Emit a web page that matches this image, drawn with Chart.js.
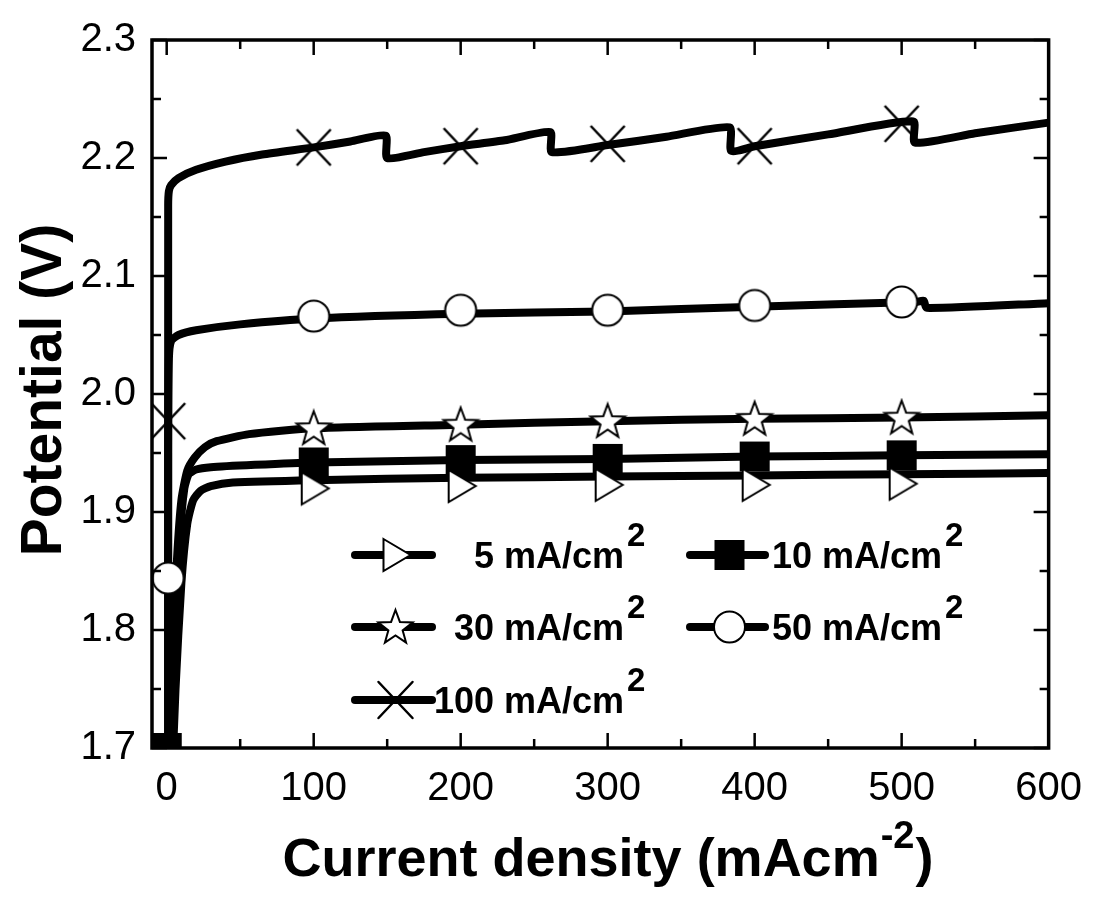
<!DOCTYPE html>
<html>
<head>
<meta charset="utf-8">
<script src="https://cdn.jsdelivr.net/npm/chart.js@4/dist/chart.umd.min.js"></script>
<style>
  html, body { margin: 0; padding: 0; background: #fff; }
  #wrap { width: 1099px; height: 913px; }
</style>
</head>
<body>
<div id="wrap"><canvas id="chart" width="1099" height="913"></canvas></div>
<script>
// axis ticks
const xTicks = [0, 100, 200, 300, 400, 500, 600];
const yTicks = [1.7, 1.8, 1.9, 2.0, 2.1, 2.2, 2.3];

// 5 mA/cm2
const x5 = [2, 6, 10, 14, 18, 23, 30, 45, 100, 200, 300, 400, 500, 600];
const y5 = [1.62, 1.75, 1.84, 1.89, 1.91, 1.918, 1.922, 1.925, 1.927, 1.929, 1.930, 1.931, 1.932, 1.933];
const mx5 = [100, 200, 300, 400, 500];
const my5 = [1.920, 1.922, 1.923, 1.923, 1.924];

// 10 mA/cm2
const x10 = [0, 3, 6, 9, 12, 15, 20, 30, 60, 100, 200, 300, 400, 500, 600];
const y10 = [1.62, 1.72, 1.80, 1.88, 1.92, 1.932, 1.936, 1.938, 1.940, 1.942, 1.944, 1.945, 1.947, 1.948, 1.949];
const mx10 = [0, 100, 200, 300, 400, 500];
const my10 = [1.70, 1.942, 1.944, 1.945, 1.947, 1.948];

// 30 mA/cm2
const x30 = [1, 4, 7, 10, 14, 19, 26, 34, 56, 100, 200, 300, 400, 500, 600];
const y30 = [1.65, 1.78, 1.86, 1.91, 1.935, 1.946, 1.955, 1.960, 1.966, 1.971, 1.974, 1.977, 1.979, 1.980, 1.982];
const mx30 = [100, 200, 300, 400, 500];
const my30 = [1.971, 1.974, 1.977, 1.979, 1.980];

// 50 mA/cm2
const x50 = [1, 1, 1.5, 3, 8, 20, 50, 100, 200, 300, 400, 510, 515, 517, 600];
const y50 = [1.62, 1.95, 2.03, 2.045, 2.05, 2.054, 2.059, 2.064, 2.068, 2.070, 2.074, 2.078, 2.079, 2.073, 2.077];
const mx50 = [1, 100, 200, 300, 400, 500];
const my50 = [1.844, 2.066, 2.071, 2.071, 2.075, 2.078];

// 100 mA/cm2
const x100 = [1, 1, 1.5, 3, 8, 20, 40, 65, 100, 125, 149, 150, 175, 200, 230, 261, 262, 300, 340, 383, 384, 400, 450, 508, 509, 550, 600];
const y100 = [1.60, 2.16, 2.172, 2.177, 2.183, 2.19, 2.197, 2.203, 2.209, 2.214, 2.219, 2.200, 2.205, 2.210, 2.215, 2.222, 2.205, 2.211, 2.218, 2.226, 2.206, 2.210, 2.220, 2.231, 2.213, 2.221, 2.230];
const mx100 = [1, 100, 200, 300, 400, 500];
const my100 = [1.977, 2.209, 2.210, 2.212, 2.210, 2.229];

const legendLabels = ['5 mA/cm', '10 mA/cm', '30 mA/cm', '50 mA/cm', '100 mA/cm'];

const FONT = '"Liberation Sans", Arial, sans-serif';

function pts(xs, ys) {
  return xs.map((x, i) => ({x: x, y: ys[i]}));
}

function drawMarker(ctx, kind, cx, cy) {
  ctx.save();
  ctx.strokeStyle = '#000';
  ctx.lineWidth = 2;
  ctx.fillStyle = '#fff';
  ctx.beginPath();
  if (kind === 'tri') {
    ctx.moveTo(cx - 12, cy - 16);
    ctx.lineTo(cx + 15, cy);
    ctx.lineTo(cx - 12, cy + 16);
    ctx.closePath();
    ctx.fill(); ctx.stroke();
  } else if (kind === 'square') {
    ctx.fillStyle = '#000';
    ctx.fillRect(cx - 15, cy - 15, 30, 30);
  } else if (kind === 'star') {
    for (let i = 0; i < 10; i++) {
      const r = i % 2 ? 7.5 : 18;
      const a = -Math.PI / 2 + i * Math.PI / 5;
      const px = cx + r * Math.cos(a), py = cy + 1 + r * Math.sin(a);
      if (i === 0) ctx.moveTo(px, py); else ctx.lineTo(px, py);
    }
    ctx.closePath();
    ctx.fill(); ctx.stroke();
  } else if (kind === 'circle') {
    ctx.arc(cx, cy, 15.5, 0, Math.PI * 2);
    ctx.fill(); ctx.stroke();
  } else if (kind === 'x') {
    ctx.lineWidth = 2.5;
    ctx.moveTo(cx - 17, cy - 18); ctx.lineTo(cx + 17, cy + 18);
    ctx.moveTo(cx + 17, cy - 18); ctx.lineTo(cx - 17, cy + 18);
    ctx.stroke();
  }
  ctx.restore();
}

function makeMarker(kind) {
  const c = document.createElement('canvas');
  c.width = 40; c.height = 40;
  drawMarker(c.getContext('2d'), kind, 20, 20);
  return c;
}

const kinds = ['tri', 'square', 'star', 'circle', 'x'];
const markerImgs = kinds.map(makeMarker);

function lineSet(xs, ys) {
  return {
    data: pts(xs, ys), showLine: true, borderColor: '#000', borderWidth: 8,
    pointRadius: 0, tension: 0.2, order: 2, borderJoinStyle: 'round', borderCapStyle: 'round'
  };
}
function markSet(xs, ys, k) {
  return {
    data: pts(xs, ys), showLine: false, pointStyle: markerImgs[k],
    pointRadius: 16, order: 1, borderWidth: 0
  };
}

const frame = {
  id: 'frame',
  afterDraw(chart) {
    const ctx = chart.ctx;
    const a = chart.chartArea;
    const sx = chart.scales.x, sy = chart.scales.y;
    ctx.save();
    ctx.strokeStyle = '#000';
    ctx.lineWidth = 2.5;
    for (let v = 0; v <= 600; v += 50) {
      const p = sx.getPixelForValue(v);
      const len = v % 100 === 0 ? 15 : 9;
      ctx.beginPath();
      ctx.moveTo(p, a.bottom); ctx.lineTo(p, a.bottom - len);
      ctx.moveTo(p, a.top); ctx.lineTo(p, a.top + len);
      ctx.stroke();
    }
    for (let i = 0; i <= 12; i++) {
      const v = 1.7 + i * 0.05;
      const p = sy.getPixelForValue(v);
      const len = i % 2 === 0 ? 15 : 9;
      ctx.beginPath();
      ctx.moveTo(a.left, p); ctx.lineTo(a.left + len, p);
      ctx.moveTo(a.right, p); ctx.lineTo(a.right - len, p);
      ctx.stroke();
    }
    ctx.lineWidth = 3.5;
    ctx.strokeRect(a.left, a.top, a.right - a.left, a.bottom - a.top);

    // axis titles
    ctx.fillStyle = '#000';
    ctx.textBaseline = 'alphabetic';
    const main = 'Current density (mAcm';
    ctx.font = 'bold 54px ' + FONT;
    const w1 = ctx.measureText(main).width;
    ctx.font = 'bold 38px ' + FONT;
    const w2 = ctx.measureText('-2').width;
    ctx.font = 'bold 54px ' + FONT;
    const w3 = ctx.measureText(')').width;
    const tx = 607 - (w1 + w2 + w3) / 2;
    const ty = 876;
    ctx.textAlign = 'left';
    ctx.fillText(main, tx, ty);
    ctx.font = 'bold 38px ' + FONT;
    ctx.fillText('-2', tx + w1 + 1, ty - 28);
    ctx.font = 'bold 54px ' + FONT;
    ctx.fillText(')', tx + w1 + w2 + 2, ty);

    ctx.save();
    ctx.translate(61, 390);
    ctx.rotate(-Math.PI / 2);
    ctx.textAlign = 'center';
    ctx.font = 'bold 57px ' + FONT;
    ctx.fillText('Potential (V)', 0, 0);
    ctx.restore();
    ctx.restore();
  }
};

const legend = {
  id: 'customLegend',
  afterDatasetsDraw(chart) {
    const ctx = chart.ctx;
    // [line start, line end, text right edge, row y]
    const spots = [
      [355, 432, 624, 555],
      [690, 765, 942, 555],
      [355, 432, 624, 627],
      [690, 765, 942, 627],
      [355, 432, 624, 700]
    ];
    ctx.save();
    spots.forEach((s, i) => {
      ctx.strokeStyle = '#000';
      ctx.lineWidth = 8;
      ctx.lineCap = 'round';
      ctx.beginPath();
      ctx.moveTo(s[0], s[3]); ctx.lineTo(s[1], s[3]);
      ctx.stroke();
      drawMarker(ctx, kinds[i], (s[0] + s[1]) / 2 + 2, s[3]);
      ctx.fillStyle = '#000';
      ctx.font = 'bold 36px ' + FONT;
      ctx.textAlign = 'right';
      ctx.textBaseline = 'alphabetic';
      ctx.fillText(legendLabels[i], s[2], s[3] + 13);
      ctx.font = 'bold 33px ' + FONT;
      ctx.textAlign = 'left';
      ctx.fillText('2', s[2] + 3, s[3] - 9);
    });
    ctx.restore();
  }
};

new Chart(document.getElementById('chart'), {
  type: 'scatter',
  data: {
    datasets: [
      markSet(mx5, my5, 0),
      markSet(mx10, my10, 1),
      markSet(mx30, my30, 2),
      markSet(mx50, my50, 3),
      markSet(mx100, my100, 4),
      lineSet(x5, y5),
      lineSet(x10, y10),
      lineSet(x30, y30),
      lineSet(x50, y50),
      lineSet(x100, y100)
    ]
  },
  options: {
    responsive: false,
    animation: false,
    layout: { padding: { top: 32, right: 39, left: 0, bottom: 0 } },
    plugins: { legend: { display: false }, tooltip: { enabled: false } },
    scales: {
      x: {
        type: 'linear', min: -10, max: 600,
        afterFit: s => { s.height = 165; },
        afterBuildTicks: s => { s.ticks = xTicks.map(v => ({value: v})); },
        grid: { display: false, drawTicks: false },
        border: { display: false },
        ticks: { color: '#000', padding: 17, maxRotation: 0, autoSkip: false,
          font: { family: FONT, size: 40 } }
      },
      y: {
        type: 'linear', min: 1.7, max: 2.3,
        afterFit: s => { s.width = 152; },
        afterBuildTicks: s => { s.ticks = yTicks.map(v => ({value: v})); },
        grid: { display: false, drawTicks: false },
        border: { display: false },
        ticks: { color: '#000', padding: 16, autoSkip: false,
          callback: v => v.toFixed(1),
          font: { family: FONT, size: 40 } }
      }
    }
  },
  plugins: [frame, legend]
});
</script>
</body>
</html>
